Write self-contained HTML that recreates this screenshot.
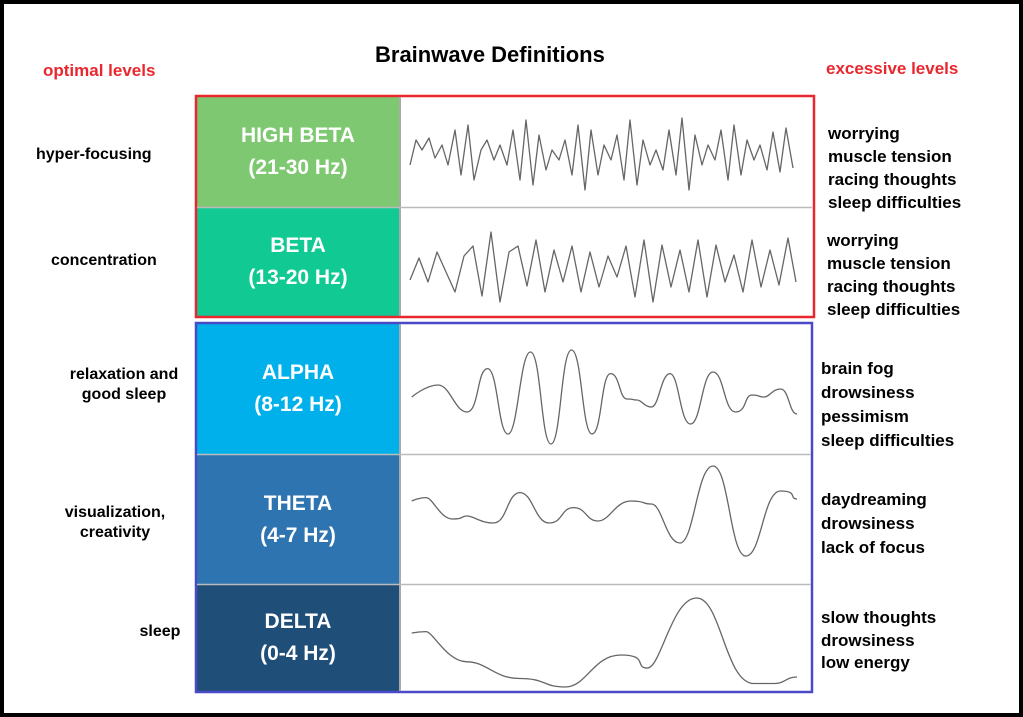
<!DOCTYPE html>
<html><head><meta charset="utf-8"><style>
body{margin:0;background:#fff}
#c{position:relative;width:1023px;height:717px;overflow:hidden;font-family:"Liberation Sans",sans-serif;font-weight:bold}
.t{position:absolute;white-space:nowrap}
.cell{position:absolute;color:#fff;text-align:center;font-size:21px;line-height:32px;display:flex;flex-direction:column;justify-content:center}
.l{position:absolute;font-size:16px;text-align:center;color:#000;line-height:20px}
.r{position:absolute;font-size:17px;color:#000;line-height:23px}
</style></head><body><div id="c">
<div style="position:absolute;left:0;top:0;width:1015px;height:709px;border:4px solid #000"></div>
<div class="t" style="left:375px;top:42px;font-size:22px">Brainwave Definitions</div>
<div class="t" style="left:43px;top:61px;font-size:17px;color:#e8282e">optimal levels</div>
<div class="t" style="left:826px;top:59px;font-size:17px;color:#e8282e">excessive levels</div>

<div class="cell" style="left:197px;top:97px;width:202px;height:110px;background:#7fc872">HIGH BETA<br>(21-30 Hz)</div>
<div class="cell" style="left:197px;top:208px;width:202px;height:108px;background:#10c993">BETA<br>(13-20 Hz)</div>
<div class="cell" style="left:197px;top:324px;width:202px;height:130px;background:#00b0ea">ALPHA<br>(8-12 Hz)</div>
<div class="cell" style="left:197px;top:455px;width:202px;height:129px;background:#2e74b0">THETA<br>(4-7 Hz)</div>
<div class="cell" style="left:197px;top:585px;width:202px;height:106px;background:#1f4e78">DELTA<br>(0-4 Hz)</div>

<svg width="1023" height="717" style="position:absolute;left:0;top:0">
<rect x="196" y="96" width="618" height="221" fill="none" stroke="#e8282e" stroke-width="2.5"/>
<rect x="196" y="323" width="616" height="369" fill="none" stroke="#4a4ac8" stroke-width="2.5"/>
<line x1="400" y1="97" x2="400" y2="316" stroke="#aaa" stroke-width="2"/>
<line x1="400" y1="324" x2="400" y2="691" stroke="#aaa" stroke-width="2"/>
<line x1="197" y1="207.5" x2="812" y2="207.5" stroke="#bbb" stroke-width="1.5"/>
<line x1="197" y1="454.5" x2="811" y2="454.5" stroke="#bbb" stroke-width="1.5"/>
<line x1="197" y1="584.5" x2="811" y2="584.5" stroke="#bbb" stroke-width="1.5"/>
<g fill="none" stroke="#666" stroke-width="1.3" stroke-linejoin="round">
<polyline points="410,165 416,140 422,150 429,138 435,158 442,145 448,165 455,130 461,175 468,125 474,180 481,150 487,140 494,160 500,145 507,165 513,130 520,180 526,120 533,185 539,135 546,170 552,150 559,160 565,140 572,175 578,125 585,190 591,130 598,175 604,145 611,160 617,135 624,180 630,120 637,185 643,140 650,165 656,150 663,170 669,130 676,175 682,118 689,190 695,135 702,165 708,145 715,160 721,130 728,180 734,125 741,175 747,140 754,160 760,145 767,170 773,132 780,172 786,128 793,168"/>
<polyline points="410,280 419,258 428,282 437,252 446,272 455,292 464,256 473,246 482,296 491,232 500,302 509,252 518,246 527,286 536,240 545,292 554,250 563,282 572,246 581,292 590,252 599,287 608,256 617,277 626,246 635,297 644,240 653,302 662,245 671,287 680,250 689,292 698,240 707,297 716,245 725,282 734,255 743,292 752,240 761,287 770,250 779,285 788,238 796,282"/>
<path d="M411.7 397 S426 385 438 385 S455 412 467 412 S477 368.6 487.5 368.6 S498 434 508 434 S520 352 530.5 352 S541 444 551 444 S561 350 571.5 350 S582 434 592 434 S601 373.6 610.5 373.6 S619 399 627 399 S632 400 637 400 S644 407 651.5 407 S661 373.6 670 373.6 S680 424 690.5 424 S702 372 713 372 S724 412 735.5 412 S744 395 752 395 S758 397 764 397 S772 389 780.6 389 S789 414 797 414"/>
<path d="M411.7 501 S419 497.6 426 497.6 S440 519 452.6 519 S460 516 467 516 S480 523 493.6 523 S507 492.6 520 492.6 S535 523 549 523 S561 507.6 573.6 507.6 S586 521 598 521 S615 501 631 501 S641 504 651.5 504 S666 543 680 543 S697 466 713 466 S730 556 745.8 556 S763 491 780.6 491 S789 499 797 499"/>
<path d="M411.7 633 S419 631.6 426 631.6 S447 661.8 467 661.8 S494 678.5 520 678.5 S543 687 565 687 S593 655 621 655 S634 668 647.4 668 S672 598 696.6 598 S725 683.5 754 683.5 S764 683.5 774.5 683.5 S786 677 797 677"/>
</g>
</svg>

<div class="l" style="left:20px;top:145px;width:180px;text-align:left;padding-left:16px">hyper-focusing</div>
<div class="l" style="left:20px;top:251px;width:180px;text-align:left;padding-left:31px">concentration</div>
<div class="l" style="left:40px;top:365px;width:168px">relaxation and<br>good sleep</div>
<div class="l" style="left:40px;top:503px;width:150px">visualization,<br>creativity</div>
<div class="l" style="left:120px;top:622px;width:80px">sleep</div>

<div class="r" style="left:828px;top:122px">worrying<br>muscle tension<br>racing thoughts<br>sleep difficulties</div>
<div class="r" style="left:827px;top:229px">worrying<br>muscle tension<br>racing thoughts<br>sleep difficulties</div>
<div class="r" style="left:821px;top:357px;line-height:24px">brain fog<br>drowsiness<br>pessimism<br>sleep difficulties</div>
<div class="r" style="left:821px;top:488px;line-height:24px">daydreaming<br>drowsiness<br>lack of focus</div>
<div class="r" style="left:821px;top:607px;line-height:22.5px">slow thoughts<br>drowsiness<br>low energy</div>
</div></body></html>
